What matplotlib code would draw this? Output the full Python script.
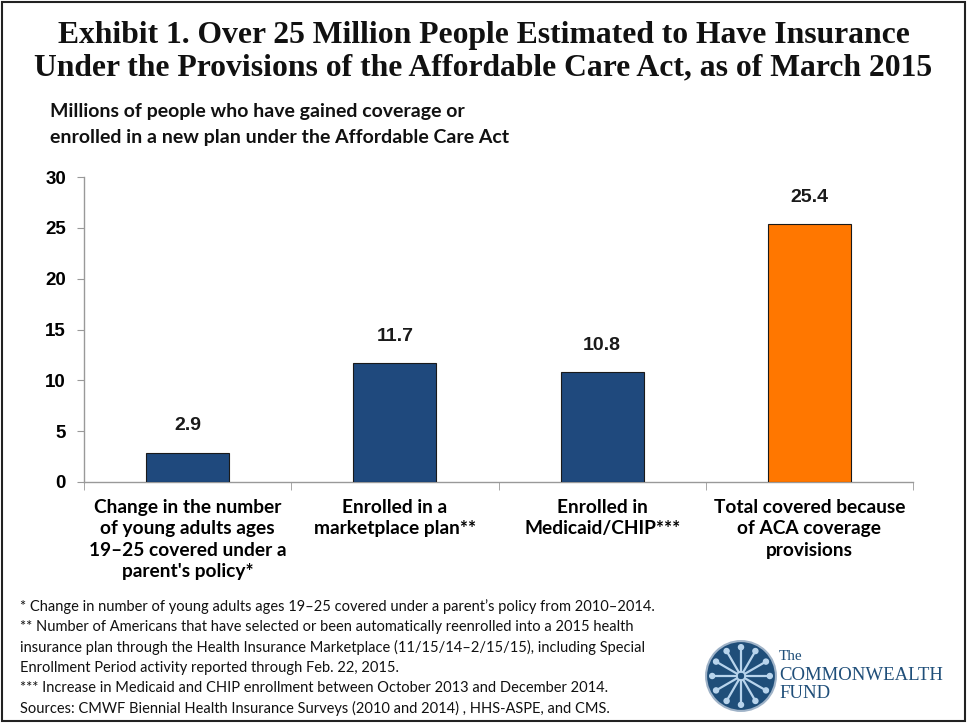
import matplotlib
matplotlib.use("Agg")
import matplotlib.pyplot as plt
import numpy as np
from matplotlib.patches import Rectangle, Circle

categories = ["Change in the number\nof young adults ages\n19\u201325 covered under a\nparent's policy*",
              "Enrolled in a\nmarketplace plan**",
              "Enrolled in\nMedicaid/CHIP***",
              "Total covered because\nof ACA coverage\nprovisions"]
values = [2.9, 11.7, 10.8, 25.4]
bar_colors = ["#1F497D", "#1F497D", "#1F497D", "#FF7700"]
yticks = [0, 5, 10, 15, 20, 25, 30]

title = ("Exhibit 1. Over 25 Million People Estimated to Have Insurance\n"
         "Under the Provisions of the Affordable Care Act, as of March 2015")
subtitle = ["Millions of people who have gained coverage or",
            "enrolled in a new plan under the Affordable Care Act"]
footnotes = ["* Change in number of young adults ages 19\u201325 covered under a parent\u2019s policy from 2010\u20132014.",
             "** Number of Americans that have selected or been automatically reenrolled into a 2015 health",
             "insurance plan through the Health Insurance Marketplace (11/15/14\u20132/15/15), including Special",
             "Enrollment Period activity reported through Feb. 22, 2015.",
             "*** Increase in Medicaid and CHIP enrollment between October 2013 and December 2014.",
             "Sources: CMWF Biennial Health Insurance Surveys (2010 and 2014) , HHS-ASPE, and CMS."]

W, H = 967, 723
fig = plt.figure(figsize=(W / 100, H / 100), dpi=100)
fig.patch.set_facecolor("white")

# frame
fig.patches.append(Rectangle((2 / W, 2 / H), 1 - 4 / W, 1 - 4 / H, transform=fig.transFigure,
                             fill=False, edgecolor="#222222", linewidth=1.5))

ax = fig.add_axes([84 / W, 1 - 482 / H, (913 - 84) / W, (482 - 177) / H])
x = np.arange(len(categories))
ax.bar(x, values, width=0.4, color=bar_colors, edgecolor="#1a1a1a", linewidth=0.8, zorder=3)
ax.set_xlim(-0.5, len(categories) - 0.5)
ax.set_ylim(0, 30)
ax.set_yticks(yticks)
ax.set_yticklabels([str(t) for t in yticks], fontsize=13.5, fontweight="bold",
                   fontfamily="Liberation Sans")
ax.tick_params(axis="y", direction="out", length=5, color="#999999", pad=8)
ax.set_xticks(np.arange(-0.5, len(categories)), minor=True)
ax.set_xticks(x)
ax.set_xticklabels(categories, fontsize=13.8, fontweight="bold", fontfamily="Lato",
                   linespacing=1.32, va="top")
ax.tick_params(axis="x", which="major", length=0, pad=12)
ax.tick_params(axis="x", which="minor", direction="out", length=6, color="#999999")
for s in ["top", "right"]:
    ax.spines[s].set_visible(False)
for s in ["left", "bottom"]:
    ax.spines[s].set_color("#999999")
    ax.spines[s].set_linewidth(1.0)

for xi, v in zip(x, values):
    ax.annotate(f"{v:.1f}", (xi, v), xytext=(0, 13), textcoords="offset points",
                ha="center", va="bottom", fontsize=14, fontweight="bold",
                fontfamily="Liberation Sans", color="#1a1a1a")

fig.text(0.5, 1 - 52 / H, title, ha="center", va="center", fontsize=22.8, fontweight="bold",
         fontfamily="Liberation Serif", linespacing=1.15, color="#111111")
for i, line in enumerate(subtitle):
    fig.text(50 / W, 1 - (112 + 26 * i) / H, line, ha="left", va="center", fontsize=14,
             fontweight="bold", fontfamily="Lato", color="#111111")
for i, line in enumerate(footnotes):
    fig.text(20 / W, 1 - (607 + 20.2 * i) / H, line, ha="left", va="center", fontsize=10.5,
             fontfamily="Lato", color="#111111")

# logo
lax = fig.add_axes([705 / W, 1 - 712 / H, 72 / W, 72 / H])
lax.set_xlim(-1, 1)
lax.set_ylim(-1, 1)
lax.set_aspect("equal")
lax.axis("off")
lax.add_patch(Circle((0, 0), 0.97, facecolor="#1F4E79", edgecolor="#9fb3c8", linewidth=1.5))
for k in range(12):
    a = np.pi / 2 + k * np.pi / 6
    lax.plot([0.12 * np.cos(a), 0.72 * np.cos(a)], [0.12 * np.sin(a), 0.72 * np.sin(a)],
             color="#b8d4ec", linewidth=1.6, solid_capstyle="round")
    lax.add_patch(Circle((0.8 * np.cos(a), 0.8 * np.sin(a)), 0.07, color="#b8d4ec"))
lax.add_patch(Circle((0, 0), 0.12, facecolor="#1F4E79", edgecolor="#b8d4ec", linewidth=1.2))
fig.text(779 / W, 1 - 657 / H, "The", ha="left", va="center", fontsize=11,
         fontfamily="Liberation Serif", color="#1F4E79")
fig.text(779 / W, 1 - 675 / H, "COMMONWEALTH", ha="left", va="center", fontsize=13.5,
         fontfamily="Liberation Serif", color="#1F4E79")
fig.text(779 / W, 1 - 693 / H, "FUND", ha="left", va="center", fontsize=13.5,
         fontfamily="Liberation Serif", color="#1F4E79")

fig.savefig("out.png", dpi=100, facecolor="white")
